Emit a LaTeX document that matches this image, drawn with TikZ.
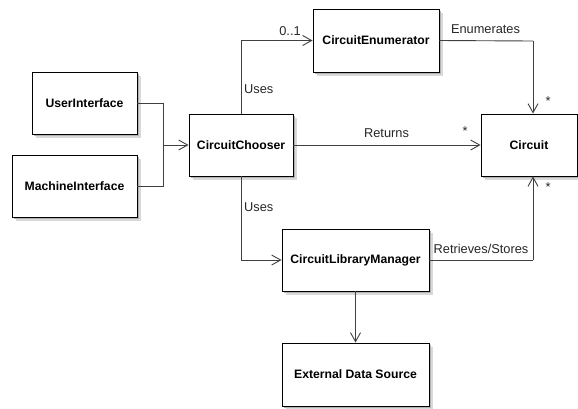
\documentclass[tikz,border=0pt]{standalone}
\usepackage{fontspec}
\setmainfont{Liberation Sans}
\usetikzlibrary{arrows.meta,shadows}
\definecolor{linegray}{HTML}{404040}
\tikzset{
  cls/.style={draw=black, fill=white, line width=0.9bp, inner sep=0pt,
    font=\fontsize{12.2bp}{14bp}\selectfont\bfseries,
    general shadow={fill=gray!30, shadow xshift=4bp, shadow yshift=-4bp},
    general shadow={fill=gray!60, shadow xshift=2bp, shadow yshift=-2bp}},
  conn/.style={draw=linegray, line width=0.9bp},
  arr/.style={conn, -{Straight Barb[length=9bp,width=10bp,line width=0.9bp]}},
  lbl/.style={font=\fontsize{12.8bp}{14bp}\selectfont, inner sep=0pt, text=black!85},
}
\begin{document}
\begin{tikzpicture}[x=1bp,y=-1bp]
\useasboundingbox (0,0) rectangle (578,408);
% classes
\node[cls, minimum width=105bp, minimum height=62bp] (ui) at (84.5,103) {UserInterface};
\node[cls, minimum width=125bp, minimum height=62bp] (mi) at (74.5,186) {MachineInterface};
\node[cls, minimum width=104bp, minimum height=62bp] (cc) at (241,145) {CircuitChooser};
\node[cls, minimum width=126bp, minimum height=63bp] (ce) at (376,40.5) {CircuitEnumerator};
\node[cls, minimum width=96bp, minimum height=62bp] (ci) at (529,145) {Circuit};
\node[cls, minimum width=147bp, minimum height=62bp] (clm) at (355.5,260) {CircuitLibraryManager};
\node[cls, minimum width=147bp, minimum height=63bp] (eds) at (355.5,374.5) {External Data Source};
% junction points
\coordinate (m) at (163,145);
\coordinate (ceturn) at (533,41);
\coordinate (clmturn) at (533,260);
% connectors
\draw[conn] (ui.east) -| (m);
\draw[conn] (mi.east) -| (m);
\draw[arr] (m) -- (cc.west);
\draw[arr] (cc.north) |- (ce.west);
\draw[arr] (cc.east) -- (ci.west);
\draw[conn] (ce.east) -- (ceturn);
\draw[arr] (ceturn) -- (ci.north -| ceturn);
\draw[arr] (cc.south) |- (clm.west);
\draw[conn] (clm.east) -- (clmturn);
\draw[arr] (clmturn) -- (ci.south -| clmturn);
\draw[arr] (clm.south) -- (eds.north);
% labels
\node[lbl, anchor=west] (l1) at (244,89) {Uses};
\node[lbl] (l2) at (290,31) {0..1};
\node[lbl] (l3) at (386.5,133) {Returns};
\node[lbl] (l4) at (465,131) {*};
\node[lbl] (l5) at (485.5,29) {Enumerates};
\node[lbl] (l6) at (548,101) {*};
\node[lbl, anchor=west] (l7) at (244,207) {Uses};
\node[lbl] (l8) at (481,249) {Retrieves/Stores};
\node[lbl] (l9) at (548,187) {*};
\end{tikzpicture}
\end{document}
